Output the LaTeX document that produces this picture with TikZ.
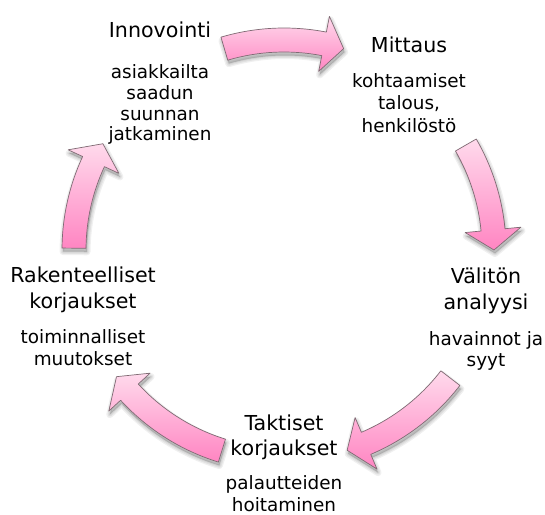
\documentclass[tikz,border=0pt]{standalone}
\usepackage{fontspec}
\setmainfont{DejaVu Sans}
\definecolor{petal}{HTML}{FFDAEC}
\definecolor{petaldeep}{HTML}{FF85C2}
\definecolor{petaledge}{HTML}{7F6A73}
\tikzset{
  headline/.style={anchor=base, inner sep=0pt, font=\fontsize{20.6}{25}\selectfont},
  subline/.style={anchor=base, inner sep=0pt, font=\fontsize{18.4}{22}\selectfont},
  cyclearrow/.style={draw=petaledge, line width=0.7pt, line join=round,
    top color=petal, bottom color=petaldeep},
  arrowshadow/.style={draw=black, draw opacity=0.06, fill=black, fill opacity=0.06,
    line join=round},
}
% block arc arrow on the cycle circle: #1 tail angle, #2 tip angle
\newcommand\cyclearc[2]{%
  \pgfmathsetmacro\headbase{#2-5.5}%
  \foreach \spread in {7,4.5,2} {%
    \path[arrowshadow, line width=\spread pt, shift={(285,253.5)}]
      (#1:222) arc[start angle=#1, end angle=\headbase, radius=222]
      -- (\headbase:238) -- (#2:210) -- (\headbase:182) -- (\headbase:198)
      arc[start angle=\headbase, end angle=#1, radius=198] -- cycle;
  }%
  \path[cyclearrow, shift={(284,250)}]
      (#1:222) arc[start angle=#1, end angle=\headbase, radius=222]
      -- (\headbase:238) -- (#2:210) -- (\headbase:182) -- (\headbase:198)
      arc[start angle=\headbase, end angle=#1, radius=198] -- cycle;
}
\begin{document}
\begin{tikzpicture}[x=1pt, y=-1pt]
  \useasboundingbox[fill=white] (0,0) rectangle (545,514);

  % arrows between the stages
  \cyclearc{-106.5}{-73.5}
  \cyclearc{-30}{0}
  \cyclearc{37.6}{72.5}
  \cyclearc{107.2}{142.9}
  \cyclearc{180.5}{210.4}

  % Innovointi
  \node[headline] (innov) at (160,37.5) {Innovointi};
  \node[subline] (innov-a) at (160,78) {asiakkailta};
  \node[subline] (innov-b) at (160,99) {saadun};
  \node[subline] (innov-c) at (160,120) {suunnan};
  \node[subline] (innov-d) at (160,140.5) {jatkaminen};

  % Mittaus
  \node[headline] (mitt) at (409,52) {Mittaus};
  \node[subline] (mitt-a) at (409,87) {kohtaamiset};
  \node[subline] (mitt-b) at (409,109.5) {talous,};
  \node[subline] (mitt-c) at (409,132) {henkilöstö};

  % Välitön analyysi
  \node[headline] (anal) at (486,283) {Välitön};
  \node[headline] (anal-t) at (486,309) {analyysi};
  \node[subline] (anal-a) at (486,345) {havainnot ja};
  \node[subline] (anal-b) at (486,366) {syyt};

  % Taktiset korjaukset
  \node[headline] (takt) at (284,430) {Taktiset};
  \node[headline] (takt-t) at (284,455) {korjaukset};
  \node[subline] (takt-a) at (284,489) {palautteiden};
  \node[subline] (takt-b) at (284,511) {hoitaminen};

  % Rakenteelliset korjaukset
  \node[headline] (rak) at (83,282) {Rakenteelliset};
  \node[headline] (rak-t) at (83,308) {korjaukset};
  \node[subline] (rak-a) at (83,343) {toiminnalliset};
  \node[subline] (rak-b) at (83,365) {muutokset};
\end{tikzpicture}
\end{document}
